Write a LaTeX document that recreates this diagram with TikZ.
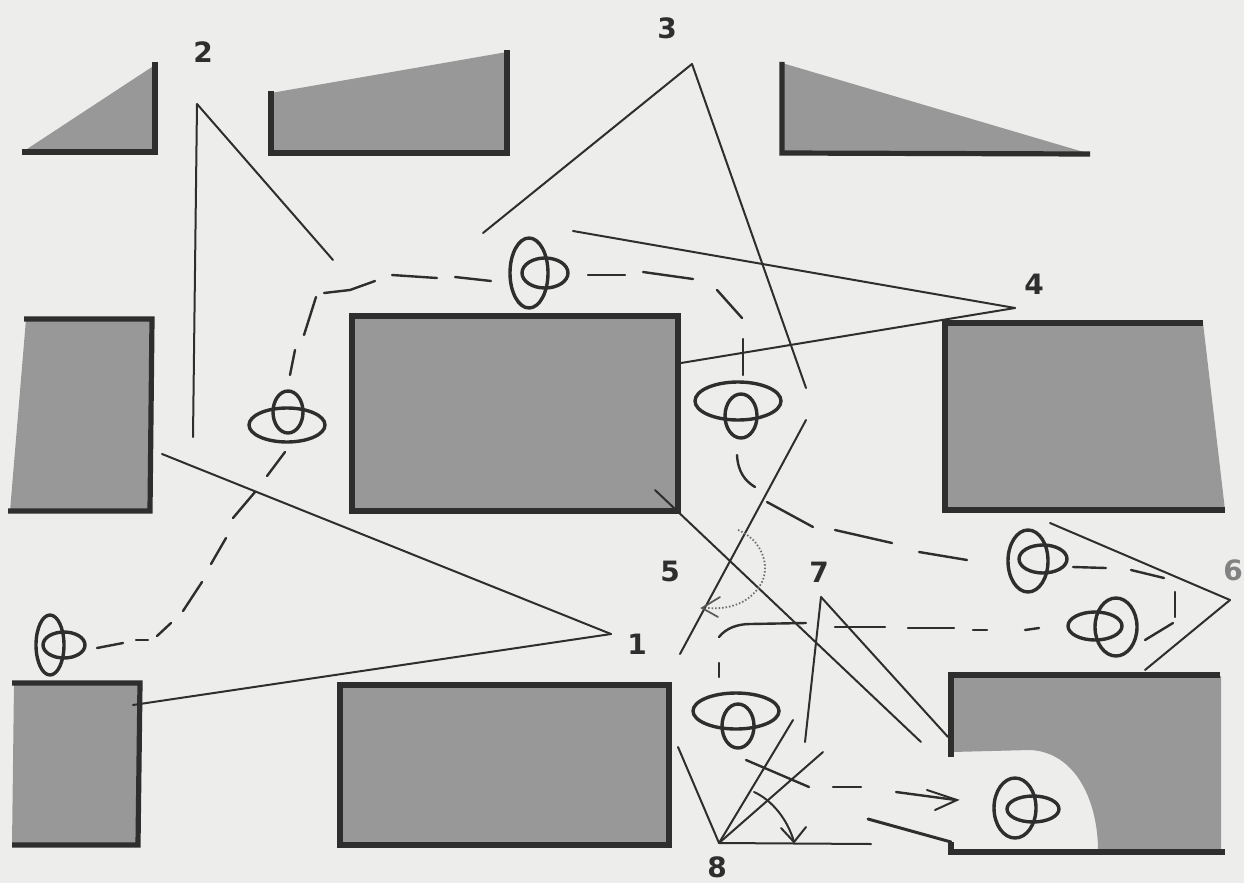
\documentclass[tikz,border=0pt]{standalone}
\usepackage{fontspec}
\setmainfont{DejaVu Sans}
\usetikzlibrary{arrows.meta}
\definecolor{paper}{HTML}{EDEDEB}
\definecolor{ink}{HTML}{2E2E2E}
\definecolor{wallfill}{HTML}{989898}
\tikzset{
  x=1pt,y=-1pt,
  wall/.style={line width=5.2pt,draw=ink,line cap=butt},
  room/.style={fill=wallfill,draw=none},
  ray/.style={line width=2pt,draw=ink,line cap=round},
  walk/.style={line width=2.4pt,draw=ink,line cap=round,line join=round},
  person/.style={line width=3.4pt,draw=ink},
  dotted arc/.style={line width=1.8pt,draw=ink!70,dash pattern=on 1.5pt off 2pt},
  numeral/.style={font=\bfseries\fontsize{28}{28}\selectfont,text=ink,inner sep=0pt}
}
\begin{document}
\begin{tikzpicture}
\useasboundingbox (0,0) rectangle (1244,883);
\clip (0,0) rectangle (1244,883);
\fill[paper] (0,0) rectangle (1244,883);

% named view points and free ends
\coordinate (p1) at (611,634);
\coordinate (p2) at (197,104);
\coordinate (p3) at (692,64);
\coordinate (p4) at (1015,308);
\coordinate (p6) at (1230,600);
\coordinate (p7) at (821,597);
\coordinate (p8) at (719,843);

% rooms
\fill[room] (24,151)--(155,65)--(155,151)--cycle;
\draw[wall] (22,152)--(155,152)--(155,62);
\fill[room] (271,93)--(507,52)--(507,153)--(271,153)--cycle;
\draw[wall] (271,91)--(271,153)--(507,153)--(507,50);
\fill[room] (782,63)--(1087,153)--(782,153)--cycle;
\draw[wall] (782,62)--(782,153)--(1090,154);

\fill[room] (26,319)--(150,319)--(150,511)--(10,511)--cycle;
\draw[wall] (24,319)--(152,319)--(150,511)--(8,511);
\fill[room] (352,316) rectangle (678,511);
\draw[wall] (352,316) rectangle (678,511);
\fill[room] (945,323)--(1203,323)--(1225,510)--(945,510)--cycle;
\draw[wall] (1203,323)--(945,323)--(945,510)--(1225,510);

\fill[room] (14,683)--(140,683)--(138,845)--(12,845)--cycle;
\draw[wall] (12,683)--(140,683)--(138,845)--(12,845);
\fill[room] (340,685) rectangle (669,845);
\draw[wall] (340,685) rectangle (669,845);

\fill[room] (952,676)--(1221,676)--(1221,851)--(1098,851)
   .. controls (1098,800) and (1075,752) .. (1030,750)--(952,752)--cycle;
\draw[wall] (1220,675)--(951,675)--(951,757);
\draw[wall] (1225,852)--(951,852)--(951,842);
\draw[line width=3pt,draw=ink,line cap=round] (951,842)--(868,819);

% sight lines
\draw[ray] (p2)--(193,437);
\draw[ray] (p2)--(333,260);
\draw[ray] (p3)--(483,233);
\draw[ray] (p3)--(806,388);
\draw[ray] (p4)--(573,231);
\draw[ray] (p4)--(681,363);
\draw[ray] (p1)--(162,454);
\draw[ray] (p1)--(133,705);
\draw[ray] (655,490)--(921,742);
\draw[ray] (806,420)--(680,654);
\draw[ray] (p7)--(805,742);
\draw[ray] (p7)--(948,737);
\draw[ray] (p8)--(678,747);
\draw[ray] (p8)--(793,720);
\draw[ray] (p8)--(823,752);
\draw[ray] (p8)--(871,844);
\draw[ray] (p6)--(1050,523);
\draw[ray] (p6)--(1145,670);

% angle arcs
\draw[dotted arc] (738,530) .. controls (762,540) and (770,565) .. (762,582)
   .. controls (752,602) and (730,610) .. (708,608);
\draw[line width=1.7pt,draw=ink!80,line cap=round] (720,597)--(702,608)--(718,617);
\draw[ray] (754,792) .. controls (772,800) and (788,820) .. (794,842);
\draw[ray] (781,828)--(794,842)--(806,827);

% walking route
\foreach \a/\b in {
  {(97,648)}/{(123,643)},{(136,640)}/{(148,640)},{(157,636)}/{(171,623)},
  {(183,611)}/{(202,582)},{(211,564)}/{(226,538)},{(233,518)}/{(255,492)},
  {(267,476)}/{(285,452)},{(290,375)}/{(295,350)},{(304,335)}/{(316,297)},
  {(392,275)}/{(437,278)},{(455,277)}/{(491,281)},
  {(588,275)}/{(625,275)},{(643,272)}/{(693,279)},{(717,290)}/{(742,318)},
  {(743,339)}/{(743,375)},{(767,502)}/{(813,527)},{(835,530)}/{(892,543)},
  {(919,552)}/{(967,560)},{(1073,567)}/{(1106,568)},{(1131,570)}/{(1164,578)},
  {(1175,592)}/{(1175,617)},{(1145,640)}/{(1173,623)},{(1025,630)}/{(1039,628)},
  {(973,630)}/{(987,630)},{(908,628)}/{(954,628)},{(835,627)}/{(885,627)},
  {(719,663)}/{(719,677)},{(746,760)}/{(809,787)},{(833,787)}/{(861,787)}}
  {\draw[walk] \a--\b;}
\draw[walk] (324,293)--(350,290)--(375,281);
\draw[walk] (737,455) .. controls (738,472) and (745,481) .. (755,487);
\draw[walk] (719,637) .. controls (726,628) and (738,624) .. (750,624)--(806,623);
\draw[walk] (896,792)--(956,800);
\draw[ray] (927,790)--(957,800)--(935,810);

% people
\foreach \bx/\by/\brx/\bry/\sx/\sy/\srx/\sry in {
  529/273/19/35/545/273/23/15,
  738/401/43/19/741/416/16/22,
  287/425/38/17/288/412/15/21,
  50/645/14/30/64/645/21/13,
  1028/561/20/31/1043/559/24/14,
  1116/627/21/29/1095/626/27/14,
  736/711/43/18/738/726/16/22,
  1015/808/21/30/1033/809/26/13}
{
  \draw[person] (\bx,\by) ellipse[x radius=\brx,y radius=\bry];
  \draw[person] (\sx,\sy) ellipse[x radius=\srx,y radius=\sry];
}

% numerals
\node[numeral] (n1) at (637,644) {1};
\node[numeral] (n2) at (203,52) {2};
\node[numeral] (n3) at (667,28) {3};
\node[numeral] (n4) at (1034,284) {4};
\node[numeral] (n5) at (670,571) {5};
\node[numeral,text=ink!60] (n6) at (1233,570) {6};
\node[numeral] (n7) at (819,572) {7};
\node[numeral] (n8) at (717,867) {8};
\end{tikzpicture}
\end{document}
